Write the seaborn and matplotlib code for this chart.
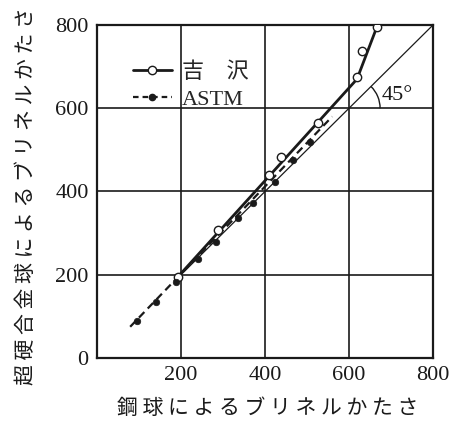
#Brinell hardness: cemented carbide ball vs steel ball
#recreate the chart with seaborn

import pandas as pd
import matplotlib.pyplot as plt
import seaborn as sns
import numpy as np
from matplotlib.lines import Line2D
from matplotlib.patches import Arc

yoshizawa_x = [193, 288, 410, 438, 527, 619, 631, 667]
yoshizawa_y = [195, 308, 439, 483, 565, 675, 738, 795]
# drawn curve for yoshizawa
yoshizawa_line_x = [190, 619, 667]
yoshizawa_line_y = [192, 670, 797]

astm_x = [95, 140, 188, 240, 283, 336, 371, 424, 467, 507]
astm_y = [89, 135, 183, 238, 279, 336, 373, 423, 476, 519]
astm_line_x = [79, 560]
astm_line_y = [75, 580]

# 45 degree reference line
ref_x = [190, 800]
ref_y = [190, 800]

ticks = [0, 200, 400, 600, 800]
x_tick_labels = ["", "200", "400", "600", "800"]
y_tick_labels = ["0", "200", "400", "600", "800"]

x_title = "鋼球によるブリネルかたさ"
y_title = "超硬合金球によるブリネルかたさ"
series_names = ["吉　沢", "ASTM"]

sns.set_style("white")
plt.rcParams['font.family'] = ['Liberation Serif', 'Noto Sans CJK JP', 'DejaVu Sans']
jp = ['Noto Sans CJK JP', 'DejaVu Sans']
ink = "#1a1a1a"

fig = plt.figure(figsize=(4.65, 4.23), dpi=100)
ax = fig.add_axes([0.2086, 0.1537, 0.7226, 0.7872])

# grid
for t in ticks[1:4]:
    ax.axvline(t, color=ink, lw=1.2, zorder=0)
    ax.axhline(t, color=ink, lw=1.2, zorder=0)

df_ref = pd.DataFrame({"x": ref_x, "y": ref_y})
sns.lineplot(data=df_ref, x="x", y="y", ax=ax, color=ink, lw=0.9, sort=False)

df_yl = pd.DataFrame({"x": yoshizawa_line_x, "y": yoshizawa_line_y})
sns.lineplot(data=df_yl, x="x", y="y", ax=ax, color=ink, lw=2.0, sort=False)
df_al = pd.DataFrame({"x": astm_line_x, "y": astm_line_y})
sns.lineplot(data=df_al, x="x", y="y", ax=ax, color=ink, lw=1.6, sort=False,
             linestyle=(0, (3.5, 2.2)))

df_y = pd.DataFrame({"x": yoshizawa_x, "y": yoshizawa_y})
sns.scatterplot(data=df_y, x="x", y="y", ax=ax, marker="o", s=36,
                facecolor="white", edgecolor=ink, linewidth=1.0, zorder=5)
df_a = pd.DataFrame({"x": astm_x, "y": astm_y})
sns.scatterplot(data=df_a, x="x", y="y", ax=ax, marker="o", s=22,
                color=ink, edgecolor=ink, linewidth=0.5, zorder=5)

# 45 degree arc and label
ax.add_patch(Arc((600, 600), 148, 148, theta1=0, theta2=45, color=ink, lw=1.0))
ax.text(678, 630, "45°", fontsize=16, va="center", ha="left", color=ink,
        family=['Liberation Serif'])

ax.set_xlim(0, 800)
ax.set_ylim(0, 800)
ax.set_xticks(ticks)
ax.set_yticks(ticks)
ax.set_xticklabels(x_tick_labels, fontsize=16, color=ink)
ax.set_yticklabels(y_tick_labels, fontsize=16, color=ink)
ax.tick_params(length=0, pad=6)
for s in ax.spines.values():
    s.set_color(ink)
    s.set_linewidth(1.6)
ax.set_xlabel("")
ax.set_ylabel("")

# axis titles, spaced out like the printed figure
fig.text(268 / 465, 1 - 408 / 423, " ".join(x_title), fontsize=15, family=jp,
         color=ink, ha="center", va="center")
fig.text(26 / 465, 1 - 196 / 423, " ".join(y_title), fontsize=15, family=jp,
         color=ink, ha="center", va="center", rotation=90)

handles = [
    Line2D([], [], color=ink, lw=2.0, marker="o", markersize=6,
           markerfacecolor="white", markeredgecolor=ink),
    Line2D([], [], color=ink, lw=1.6, linestyle=(0, (2.5, 1.8)), marker="o",
           markersize=4.5, markerfacecolor=ink),
]
ax.legend(handles, series_names, loc="upper left", bbox_to_anchor=(0.08, 0.915),
          frameon=False, fontsize=16, handlelength=1.75, handletextpad=0.45,
          labelspacing=0.3, borderaxespad=0)

plt.savefig("out.png", dpi=100)
